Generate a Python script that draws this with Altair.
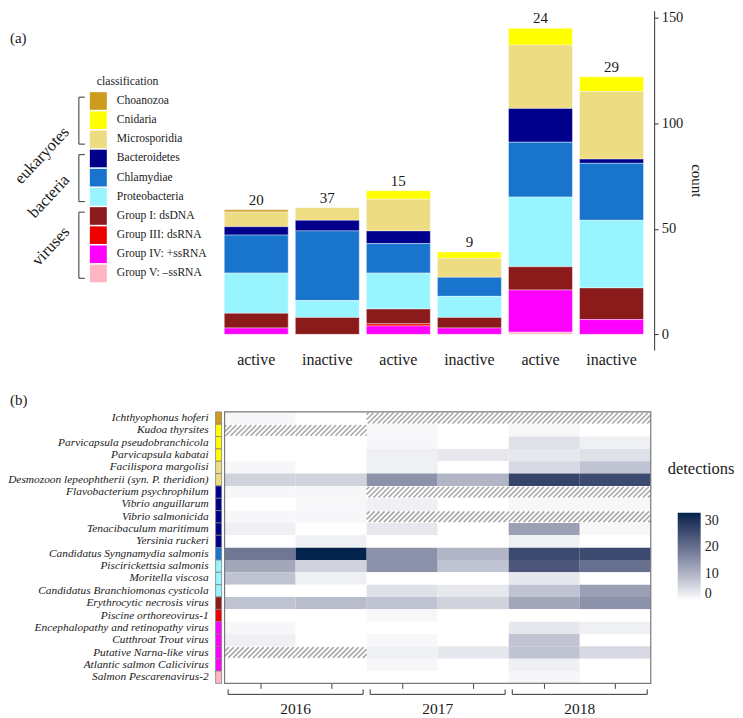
import altair as alt
import pandas as pd

FONT = "Liberation Serif"
INK = "#1a1a1a"

# ---------------- panel (a): stacked bars ----------------
classes = ["Choanozoa", "Cnidaria", "Microsporidia", "Bacteroidetes", "Chlamydiae",
           "Proteobacteria", "Group I: dsDNA", "Group III: dsRNA", "Group IV: +ssRNA",
           "Group V: \u2013ssRNA"]
class_colors = ["#CD9B1D", "#FFFF00", "#EEDC82", "#00008B", "#1874CD",
                "#98F5FF", "#8B1A1A", "#EE0000", "#FF00FF", "#FFB6C1"]
groups = ["eukaryotes", "bacteria", "viruses"]
group_first = [0, 3, 6]
group_last = [2, 5, 9]

bar_keys = ["2016 active", "2016 inactive", "2017 active", "2017 inactive",
            "2018 active", "2018 inactive"]
bar_n = [20, 37, 15, 9, 24, 29]

choanozoa = [1, 0, 0, 0, 0, 0]
cnidaria = [0, 0, 4, 3, 8, 7]
microsporidia = [7, 6, 15, 9, 30, 32]
bacteroidetes = [4, 5, 6, 0, 16, 2]
chlamydiae = [18, 33, 14, 9, 26, 27]
proteobacteria = [19, 8, 17, 10, 33, 32]
group_1 = [7, 8, 7, 5, 11, 15]
group_3 = [0, 0, 1, 0, 0, 0]
group_4 = [3, 0, 4, 3, 20, 7]
group_5 = [0, 0, 0, 0, 1, 0]
class_counts = [choanozoa, cnidaria, microsporidia, bacteroidetes, chlamydiae,
                proteobacteria, group_1, group_3, group_4, group_5]

# ---------------- panel (b): heatmap ----------------
species = ["Ichthyophonus hoferi", "Kudoa thyrsites", "Parvicapsula pseudobranchicola",
           "Parvicapsula kabatai", "Facilispora margolisi",
           "Desmozoon lepeophtherii (syn. P. theridion)", "Flavobacterium psychrophilum",
           "Vibrio anguillarum", "Vibrio salmonicida", "Tenacibaculum maritimum",
           "Yersinia ruckeri", "Candidatus Syngnamydia salmonis", "Piscirickettsia salmonis",
           "Moritella viscosa", "Candidatus Branchiomonas cysticola",
           "Erythrocytic necrosis virus", "Piscine orthoreovirus-1",
           "Encephalopathy and retinopathy virus", "Cutthroat Trout virus",
           "Putative Narna-like virus", "Atlantic salmon Calicivirus",
           "Salmon Pescarenavirus-2"]
species_class = ["Choanozoa", "Cnidaria", "Cnidaria", "Cnidaria", "Microsporidia",
                 "Microsporidia", "Bacteroidetes", "Bacteroidetes", "Bacteroidetes",
                 "Bacteroidetes", "Bacteroidetes", "Chlamydiae", "Proteobacteria",
                 "Proteobacteria", "Proteobacteria", "Group I: dsDNA", "Group III: dsRNA",
                 "Group IV: +ssRNA", "Group IV: +ssRNA", "Group IV: +ssRNA",
                 "Group IV: +ssRNA", "Group V: \u2013ssRNA"]
N = None
det_2016_active = [1, N, 0, 0, 1, 6, 1, 0, 1, 2, 0, 19, 12, 8, 0, 8, 0, 1, 2, N, 0, 0]
det_2016_inactive = [0, N, 0, 0, 0, 6, 1, 1, 1, 0, 2, 33, 6, 2, 0, 9, 0, 0, 0, N, 0, 0]
det_2017_active = [N, 1, 1, 2, 2, 15, N, 2, N, 3, 0, 15, 15, 0, 4, 8, 1, 0, 1, 2, 1, 0]
det_2017_inactive = [N, 0, 0, 3, 0, 10, N, 0, N, 0, 0, 10, 8, 0, 3, 6, 0, 0, 0, 3, 0, 0]
det_2018_active = [N, 1, 4, 3, 5, 27, N, 1, N, 13, 2, 26, 24, 3, 8, 12, 0, 3, 8, 8, 2, 1]
det_2018_inactive = [N, 0, 2, 4, 8, 26, N, 1, N, 1, 0, 26, 20, 0, 13, 15, 0, 2, 0, 5, 0, 0]
det_cols = [det_2016_active, det_2016_inactive, det_2017_active, det_2017_inactive,
            det_2018_active, det_2018_inactive]
years = ["2016", "2017", "2018"]
legend_values = [0, 10, 20, 30]

# ---------------- tables ----------------
bar_rows = []
for ci, (cls, vals) in enumerate(zip(classes, class_counts)):
    for k, v in zip(bar_keys, vals):
        if v > 0:
            bar_rows.append({"key": k, "classification": cls, "count": v,
                             "stack": len(classes) - 1 - ci})
bars_df = pd.DataFrame(bar_rows)
tot_df = pd.DataFrame({"key": bar_keys,
                       "total": [sum(c[i] for c in class_counts) for i in range(6)],
                       "n": bar_n})

leg_df = pd.DataFrame({"classification": classes, "idx": list(range(len(classes)))})
leg_df["y0"] = leg_df["idx"] - 0.46
leg_df["y1"] = leg_df["idx"] + 0.46
br_df = pd.DataFrame({"group": groups,
                      "top": [f - 0.2 for f in group_first],
                      "bot": [l + 0.25 for l in group_last]})

cls_scale = alt.Scale(domain=classes, range=class_colors)

PW = 441.4      # common plot width of both rows
LX = -204       # left edge of the whole figure relative to the plot origin


def one_text(t, x, y, size, **kw):
    return alt.Chart(pd.DataFrame({"t": [t]})).mark_text(
        fontSize=size, color=INK, **kw).encode(text="t:N", x=alt.value(x), y=alt.value(y))


# ---------------- top row: legend + bars ----------------
lys = alt.Scale(domain=[-4.714, 12.995], reverse=True, nice=False, zero=False)
swatch = alt.Chart(leg_df).mark_rect().encode(
    x=alt.value(LX + 80), x2=alt.value(LX + 97),
    y=alt.Y("y0:Q", scale=lys, axis=None), y2="y1:Q",
    color=alt.Color("classification:N", scale=cls_scale, legend=None))
sw_label = alt.Chart(leg_df).mark_text(align="left", baseline="middle", fontSize=11.6,
                                       color=INK).encode(
    x=alt.value(LX + 107), y=alt.Y("idx:Q", scale=lys, axis=None), text="classification:N")
br_v = alt.Chart(br_df).mark_rule(color="#333", strokeWidth=1).encode(
    x=alt.value(LX + 69), y=alt.Y("top:Q", scale=lys, axis=None), y2="bot:Q")
br_t = alt.Chart(br_df).mark_rule(color="#333", strokeWidth=1).encode(
    x=alt.value(LX + 69), x2=alt.value(LX + 75), y=alt.Y("top:Q", scale=lys, axis=None))
br_b = alt.Chart(br_df).mark_rule(color="#333", strokeWidth=1).encode(
    x=alt.value(LX + 69), x2=alt.value(LX + 75), y=alt.Y("bot:Q", scale=lys, axis=None))

rot_eu = one_text(groups[0], LX + 32, 145, 16.5, angle=313, align="center", baseline="middle")
rot_ba = one_text(groups[1], LX + 39, 186, 16.5, angle=313, align="center", baseline="middle")
rot_vi = one_text(groups[2], LX + 41, 236, 16.5, angle=313, align="center", baseline="middle")
title_a = one_text("(a)", LX, 27, 15, align="left", baseline="middle")
leg_title = one_text("classification", LX + 87, 70, 11.7, align="left", baseline="middle")

ys = alt.Scale(domain=[-7.42, 153.3], nice=False, zero=False)
xs = alt.Scale(domain=bar_keys, paddingInner=0.1, paddingOuter=0.15)
x_ax = alt.Axis(title=None, labelExpr="split(datum.label, ' ')[1]", labelAngle=0,
                ticks=False, tickSize=0, domain=False, labelFontSize=16, labelPadding=2,
                labelColor=INK)
y_ax = alt.Axis(orient="right", values=[0, 50, 100, 150], title="count", titleAngle=90,
                titleFontSize=15, titleFontWeight="normal", titlePadding=6,
                labelFontSize=14.5, labelPadding=3, tickSize=4, tickColor="#333",
                domainColor="#333", grid=False, labelColor=INK, titleColor=INK)
bar_layer = alt.Chart(bars_df).mark_bar(stroke="white", strokeWidth=0.4).encode(
    x=alt.X("key:N", scale=xs, sort=bar_keys, axis=x_ax),
    y=alt.Y("count:Q", stack="zero", scale=ys, axis=y_ax),
    color=alt.Color("classification:N", scale=cls_scale, legend=None),
    order=alt.Order("stack:Q", sort="ascending"))
n_layer = alt.Chart(tot_df).mark_text(baseline="alphabetic", dy=-5, fontSize=15,
                                      color=INK).encode(
    x=alt.X("key:N", scale=xs, sort=bar_keys, axis=x_ax),
    y=alt.Y("total:Q", scale=ys, axis=None),
    text="n:Q")

top = alt.layer(bar_layer, n_layer, title_a, leg_title, br_v, br_t, br_b, swatch,
                sw_label, rot_eu, rot_ba, rot_vi).resolve_scale(y="independent").properties(
    width=PW, height=340)

# ---------------- bottom row: heatmap ----------------
HH = 272
NR = len(species)
CELL_LEFT = 11                 # heatmap starts 11 px right of the plot origin
cw, rh = 427 / 6, HH / NR
hm_rows, hatch_rows = [], []
for c, col in enumerate(det_cols):
    for r, v in enumerate(col):
        if v is not None:
            hm_rows.append({"row": r, "row1": r + 1, "col": c, "col1": c + 1,
                            "detections": v})
        else:
            x0, x1 = c * cw, (c + 1) * cw
            y0, y1 = r * rh + 0.8, (r + 1) * rh - 0.8
            s = 5.0
            k = int((x0 + y0) // s)
            while k * s <= x1 + y1:
                cv = k * s
                lo, hi = max(x0, cv - y1), min(x1, cv - y0)
                if hi - lo > 0.3:
                    hatch_rows.append({"xa": lo / cw, "ya": (cv - lo) / rh,
                                       "xb": hi / cw, "yb": (cv - hi) / rh})
                k += 1
hm_df = pd.DataFrame(hm_rows)
hatch_df = pd.DataFrame(hatch_rows)
frame_df = pd.DataFrame({"x0": [0], "x1": [6], "y0": [0], "y1": [NR]})

hx = alt.Scale(domain=[-CELL_LEFT / cw, (PW - CELL_LEFT) / cw], nice=False, zero=False)
hy = alt.Scale(domain=[0, NR], nice=False, zero=False, reverse=True)
hx_ax = alt.Axis(values=[0.5, 1.5, 2.5, 3.5, 4.5, 5.5], labels=False, domain=False,
                 grid=False, ticks=True, tickSize=5, tickColor="#444", title=None)

rect = alt.Chart(hm_df).mark_rect().encode(
    x=alt.X("col:Q", scale=hx, axis=hx_ax), x2="col1:Q",
    y=alt.Y("row:Q", scale=hy, axis=None), y2="row1:Q",
    color=alt.Color("detections:Q",
                    scale=alt.Scale(domain=[0, 33], range=["#FFFFFF", "#03224C"],
                                    interpolate="lab"),
                    legend=alt.Legend(orient="none", legendX=465, legendY=101, title=None,
                                      gradientLength=88, gradientThickness=23,
                                      values=legend_values, labelFontSize=14,
                                      labelOffset=4, padding=0, gradientStrokeWidth=0,
                                      direction="vertical", labelColor=INK)))
hatch = alt.Chart(hatch_df).mark_rule(color="#A8A8A8", strokeWidth=1.6).encode(
    x=alt.X("xa:Q", scale=hx, axis=hx_ax), x2="xb:Q",
    y=alt.Y("ya:Q", scale=hy, axis=None), y2="yb:Q")
frame = alt.Chart(frame_df).mark_rect(fill=None, stroke="#7a7a7a", strokeWidth=1.2).encode(
    x=alt.X("x0:Q", scale=hx, axis=hx_ax), x2="x1:Q",
    y=alt.Y("y0:Q", scale=hy, axis=None), y2="y1:Q")

yr_df = pd.DataFrame({"year": years,
                      "start": [2 * i + 0.05 for i in range(3)],
                      "end": [2 * i + 1.95 for i in range(3)],
                      "mid": [2 * i + 1.0 for i in range(3)]})
br_line = alt.Chart(yr_df).mark_rule(color="#333", strokeWidth=1).encode(
    x=alt.X("start:Q", scale=hx, axis=hx_ax), x2="end:Q", y=alt.value(HH + 11))
br_l = alt.Chart(yr_df).mark_rule(color="#333", strokeWidth=1).encode(
    x=alt.X("start:Q", scale=hx, axis=hx_ax), y=alt.value(HH + 6), y2=alt.value(HH + 11))
br_r = alt.Chart(yr_df).mark_rule(color="#333", strokeWidth=1).encode(
    x=alt.X("end:Q", scale=hx, axis=hx_ax), y=alt.value(HH + 6), y2=alt.value(HH + 11))
yr_txt = alt.Chart(yr_df).mark_text(fontSize=15.5, baseline="middle", color=INK).encode(
    x=alt.X("mid:Q", scale=hx, axis=hx_ax), y=alt.value(HH + 26), text="year:N")
det_title = one_text("detections", 455, 57, 16.5, align="left", baseline="middle")

sp_df = pd.DataFrame({"species": species, "classification": species_class,
                      "row": list(range(NR))})
sp_df["row1"] = sp_df["row"] + 1
sp_df["mid"] = sp_df["row"] + 0.5
names = alt.Chart(sp_df).mark_text(align="right", baseline="middle", fontStyle="italic",
                                   fontSize=11.4, color=INK).encode(
    x=alt.value(-5), y=alt.Y("mid:Q", scale=hy, axis=None), text="species:N")
stripe = alt.Chart(sp_df).mark_rect(stroke="#808080", strokeWidth=0.8).encode(
    x=alt.value(2), x2=alt.value(8),
    y=alt.Y("row:Q", scale=hy, axis=None), y2="row1:Q",
    color=alt.Color("classification:N", scale=cls_scale, legend=None))
title_b = one_text("(b)", LX, -12, 15, align="left", baseline="middle")

bottom = alt.layer(rect, hatch, frame, br_line, br_l, br_r, yr_txt, det_title, names,
                   stripe, title_b).resolve_scale(color="independent").properties(
    width=PW, height=HH)

chart = alt.vconcat(top, bottom, spacing=62, bounds="flush").resolve_scale(
    color="independent").properties(padding=0).configure(font=FONT).configure_view(
    stroke=None).configure_axis(labelFont=FONT, titleFont=FONT).configure_legend(
    labelFont=FONT).configure_text(font=FONT)

chart.save("out.html", embed_options={"renderer": "svg", "actions": False})
